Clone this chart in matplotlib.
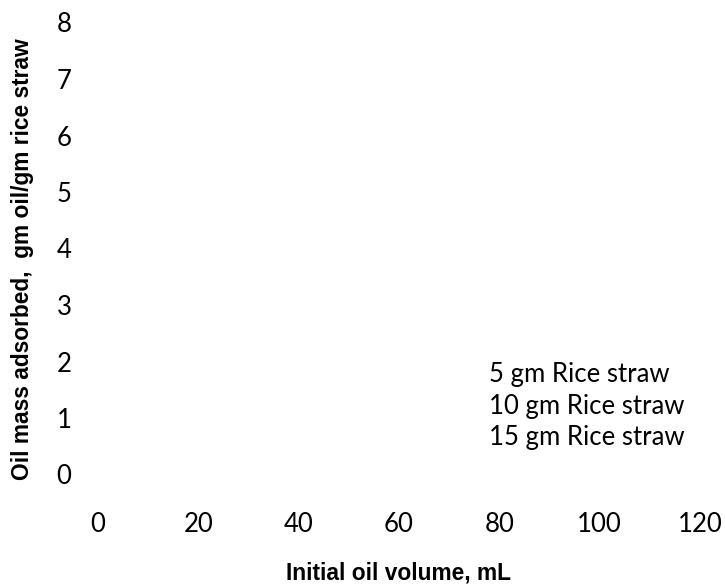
import matplotlib
matplotlib.use("Agg")
import matplotlib.pyplot as plt

# axis ticks
x_ticks = [0, 20, 40, 60, 80, 100, 120]
y_ticks = [0, 1, 2, 3, 4, 5, 6, 7, 8]

# series (no points are visible in the source chart)
series_names = ["5 gm Rice straw", "10 gm Rice straw", "15 gm Rice straw"]
series_x = [[], [], []]
series_y = [[], [], []]

TICK_FONT = "Lato"
TITLE_FONT = "Liberation Sans"

fig = plt.figure(figsize=(7.25, 5.87), dpi=100)
ax = fig.add_axes([98 / 725, (587 - 474.5) / 587, (700 - 98) / 725, (474.5 - 22.5) / 587])

for xs, ys, name in zip(series_x, series_y, series_names):
    ax.plot(xs, ys, linestyle="none", marker="none", label=name)

ax.set_xlim(0, 120)
ax.set_ylim(0, 8)
ax.set_xticks(x_ticks)
ax.set_yticks(y_ticks)
for s in ax.spines.values():
    s.set_visible(False)
ax.tick_params(axis="both", length=0, labelsize=18.5)
ax.tick_params(axis="x", pad=27)
ax.tick_params(axis="y", pad=19)
for lab in ax.get_xticklabels() + ax.get_yticklabels():
    lab.set_fontfamily(TICK_FONT)

fig.text(399 / 725, 1 - 573 / 587, "Initial oil volume, mL", ha="center", va="center",
         fontsize=16.4, fontweight="bold", family=TITLE_FONT)
fig.text(23 / 725, 1 - 259 / 587, "Oil mass adsorbed,  gm oil/gm rice straw", ha="center",
         va="center", rotation=90, fontsize=16.4, fontweight="bold", family=TITLE_FONT)

leg = ax.legend(loc="upper left", bbox_to_anchor=(489 / 725, 1 - 362 / 587),
                bbox_transform=fig.transFigure, frameon=False, handlelength=0,
                handletextpad=0, borderpad=0, borderaxespad=0, labelspacing=0.26,
                prop={"family": TICK_FONT, "size": 18.5})

fig.savefig("out.png", dpi=100)
plt.close(fig)
